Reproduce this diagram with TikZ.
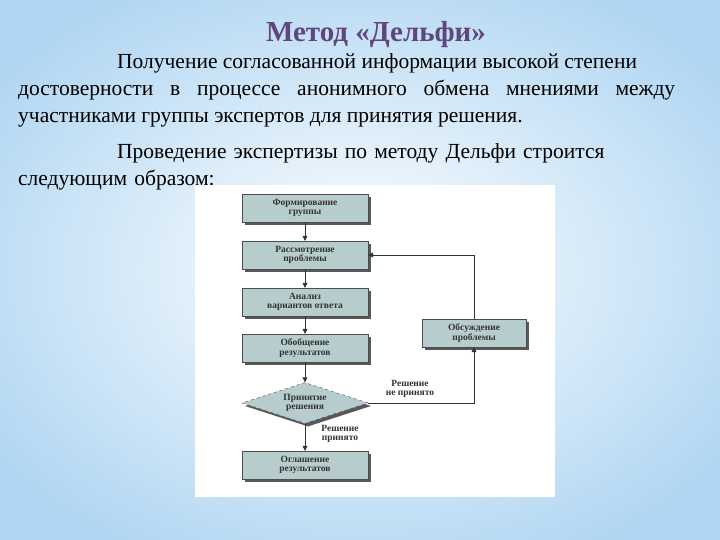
\documentclass[tikz,border=0pt]{standalone}
\usepackage{fontspec}
\setmainfont{Liberation Serif}
\usetikzlibrary{shapes.geometric,arrows.meta,shadows}
\begin{document}
\begin{tikzpicture}[x=1pt,y=-1pt,
  bx/.style={draw=black!70,fill={rgb,255:red,183;green,204;blue,204},minimum width=126pt,minimum height=28pt,inner sep=1pt,align=center,font=\fontsize{9.5}{9.5}\selectfont\bfseries,text=black!80,drop shadow={shadow xshift=3pt,shadow yshift=-3pt,fill=black!65,opacity=1}},
  ar/.style={-{Triangle[length=5pt,width=5pt]},black!80,line width=0.6pt},
  lb/.style={font=\fontsize{9.5}{9.5}\selectfont\bfseries,text=black!80,align=center,inner sep=0pt}]
\useasboundingbox (0,0) rectangle (720,540);
\shade[inner color=white,outer color={rgb,255:red,175;green,213;blue,242}] (-100,-60) rectangle (820,600);
\node[font=\fontsize{29}{29}\selectfont\bfseries,text={rgb,255:red,95;green,70;blue,125}] (t) at (376,35) {Метод «Дельфи»};
\node[anchor=north west,text width=657pt,align=justify,inner sep=0pt,font=\fontsize{21.5}{27}\selectfont] (p1) at (18,53) {\hspace*{99pt}Получение согласованной информации высокой степени\hfill\break достоверности в процессе анонимного обмена мнениями между\linebreak участниками группы экспертов для принятия решения.};
\node[anchor=north west,text width=657pt,align=left,inner sep=0pt,font=\fontsize{21.5}{27}\selectfont] (p2) at (18,143) {\hspace*{99pt}Проведение экспертизы по методу Дельфи строится\\следующим образом:};
\fill[white] (195,185) rectangle (555,497);
\node[bx] (b1) at (305,208) {Формирование\\группы};
\node[bx] (b2) at (305,255) {Рассмотрение\\проблемы};
\node[bx] (b3) at (305,302) {Анализ\\вариантов ответа};
\node[bx] (b4) at (305,348) {Обобщение\\результатов};
\node[bx,diamond,aspect=3.1,minimum width=126pt,minimum height=41pt,inner sep=0pt,dashed] (d) at (305,403) {Принятие\\решения};
\node[bx] (b6) at (305,465) {Оглашение\\результатов};
\node[bx,minimum width=104pt] (r) at (474,333) {Обсуждение\\проблемы};
\draw[ar] (b1) -- (b2);
\draw[ar] (b2) -- (b3);
\draw[ar] (b3) -- (b4);
\draw[ar] (b4) -- (d);
\draw[ar] (d) -- (b6);
\draw[ar] (d.east) -| (r.south);
\draw[ar] (r.north) |- (b2.east);
\node[lb] (l1) at (410,389) {Решение\\не принято};
\node[lb] (l2) at (340,434) {Решение\\принято};
\end{tikzpicture}
\end{document}
